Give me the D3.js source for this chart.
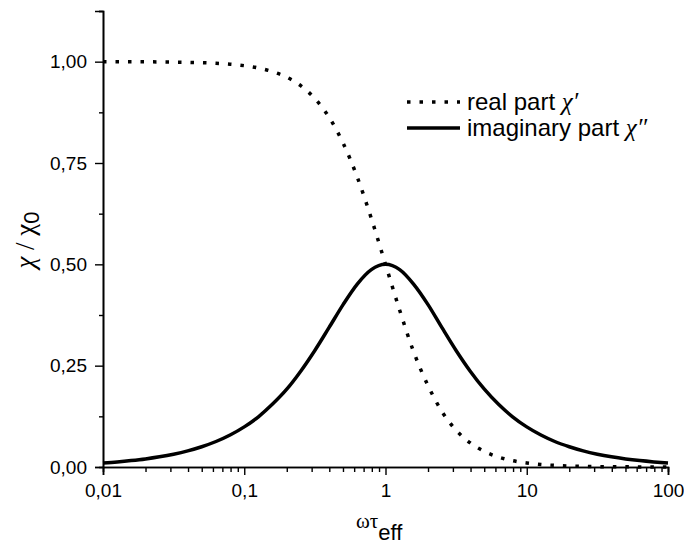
<!DOCTYPE html>
<html>
<head>
<meta charset="utf-8">
<script src="https://cdn.jsdelivr.net/npm/d3@7"></script>
<style>
  body { margin: 0; background: #fff; }
  svg { display: block; }
  text { font-family: "Liberation Sans", Arial, sans-serif; fill: #000; }
</style>
</head>
<body>
<div id="graph"></div>
<script>
// chart size and plot box (pixels)
const WIDTH = 684, HEIGHT = 546;
const plot = {left: 103, right: 668, top: 11, bottom: 467};

// omega*tau_eff sample points (0.1 decade steps)
const wt = [0.01, 0.0126, 0.0158, 0.02, 0.0251, 0.0316, 0.0398, 0.05, 0.0631, 0.0794,
    0.1, 0.126, 0.158, 0.2, 0.251, 0.316, 0.398, 0.501, 0.631, 0.794,
    1, 1.26, 1.58, 2, 2.51, 3.16, 3.98, 5.01, 6.31, 7.94,
    10, 12.6, 15.8, 20, 25.1, 31.6, 39.8, 50.1, 63.1, 79.4, 100];
// real part chi'
const realPart = [0.9999, 0.9998, 0.9997, 0.9996, 0.9994, 0.999, 0.9984, 0.9975, 0.996, 0.9937,
    0.9901, 0.9844, 0.9755, 0.9617, 0.9407, 0.9091, 0.8632, 0.7992, 0.7153, 0.6131,
    0.5, 0.3869, 0.2847, 0.2008, 0.1368, 0.0909, 0.0594, 0.0383, 0.0245, 0.0156,
    0.0099, 0.0063, 0.004, 0.0025, 0.0016, 0.001, 0.0006, 0.0004, 0.00025, 0.00016, 0.0001];
// imaginary part chi''
const imagPart = [0.0100, 0.0126, 0.0158, 0.0199, 0.0251, 0.0316, 0.0398, 0.0500, 0.0629, 0.0789,
    0.0990, 0.1239, 0.1546, 0.1919, 0.2363, 0.2875, 0.3437, 0.4006, 0.4513, 0.4870,
    0.5000, 0.4870, 0.4513, 0.4006, 0.3437, 0.2875, 0.2363, 0.1919, 0.1546, 0.1239,
    0.0990, 0.0789, 0.0629, 0.0500, 0.0398, 0.0316, 0.0251, 0.0199, 0.0158, 0.0126, 0.0100];

// ticks
const xMajor = [0.01, 0.1, 1, 10, 100];
const xMajorLabels = ["0,01", "0,1", "1", "10", "100"];
const yMajor = [0, 0.25, 0.5, 0.75, 1];
const yMajorLabels = ["0,00", "0,25", "0,50", "0,75", "1,00"];
const yMinor = [0.125, 0.375, 0.625, 0.875, 1.125];

let svg = d3.select("#graph")
    .append("svg")
    .attr("width", WIDTH)
    .attr("height", HEIGHT);

let x = d3.scaleLog()
    .domain([0.01, 100])
    .range([plot.left, plot.right]);

let y = d3.scaleLinear()
    .domain([0, 1.125])
    .range([plot.bottom, plot.top]);

// minor ticks on log axis: 2..9 in every decade
let xMinor = [];
xMajor.slice(0, -1).forEach(d => {
    for (let k = 2; k <= 9; k++) xMinor.push(d * k);
});

// x axis
let xAxis = svg.append("g").attr("transform", `translate(0, ${plot.bottom})`);
xAxis.call(d3.axisBottom(x).tickValues(xMinor).tickSize(5).tickFormat(""));
xAxis.append("g").call(d3.axisBottom(x).tickValues(xMajor).tickSize(8).tickPadding(9)
    .tickFormat((d, i) => xMajorLabels[i]));

// y axis
let yAxis = svg.append("g").attr("transform", `translate(${plot.left}, 0)`);
yAxis.call(d3.axisLeft(y).tickValues(yMinor).tickSize(4).tickFormat(""));
yAxis.append("g").call(d3.axisLeft(y).tickValues(yMajor).tickSize(8).tickPadding(8)
    .tickFormat((d, i) => yMajorLabels[i]));

svg.selectAll(".domain").attr("stroke", "#000").attr("stroke-width", 1.6);
svg.selectAll(".tick line").attr("stroke", "#000").attr("stroke-width", 1.4);
svg.selectAll(".tick text")
    .style("font-family", "'Liberation Sans', Arial, sans-serif")
    .style("font-size", "19px")
    .attr("fill", "#000");

// curves
let line = d3.line()
    .x((d, i) => x(wt[i]))
    .y(d => y(d))
    .curve(d3.curveMonotoneX);

svg.append("path")
    .datum(realPart)
    .attr("d", line)
    .attr("fill", "none")
    .attr("stroke", "#000")
    .attr("stroke-width", 3.5)
    .attr("stroke-dasharray", "3.5 9");

svg.append("path")
    .datum(imagPart)
    .attr("d", line)
    .attr("fill", "none")
    .attr("stroke", "#000")
    .attr("stroke-width", 3.5);

// legend
const legendItems = [
    {label: "real part ", sym: "\u03C7\u2032", dash: "3.5 9", y: 102},
    {label: "imaginary part ", sym: "\u03C7\u2033", dash: null, y: 128}
];
let legend = svg.append("g");
legendItems.forEach(d => {
    legend.append("line")
        .attr("x1", 407).attr("x2", 460)
        .attr("y1", d.y).attr("y2", d.y)
        .attr("stroke", "#000")
        .attr("stroke-width", 3.5)
        .attr("stroke-dasharray", d.dash);
    let t = legend.append("text")
        .attr("x", 467)
        .attr("y", d.y + 8)
        .style("font-size", "24px")
        .text(d.label);
    t.append("tspan")
        .style("font-family", "'Liberation Serif', 'Times New Roman', serif")
        .style("font-style", "italic")
        .style("font-size", "25px")
        .text(d.sym);
});

// y axis label: chi / chi_0
let yl = svg.append("text")
    .attr("transform", "translate(34, 240) rotate(-90)")
    .style("text-anchor", "middle")
    .style("font-family", "'Liberation Serif', 'Times New Roman', serif")
    .style("font-size", "27px");
yl.append("tspan").style("font-style", "italic").text("\u03C7");
yl.append("tspan").text(" / \u03C7");
yl.append("tspan")
    .style("font-family", "'Liberation Sans', Arial, sans-serif")
    .style("font-size", "22px")
    .attr("dy", 5)
    .text("0");

// x axis label: omega tau_eff
let xl = svg.append("text")
    .attr("x", 356)
    .attr("y", 528)
    .style("font-family", "'Liberation Serif', 'Times New Roman', serif")
    .style("font-size", "21px");
xl.append("tspan").text("\u03C9\u03C4");
xl.append("tspan")
    .style("font-family", "'Liberation Sans', Arial, sans-serif")
    .style("font-size", "22px")
    .attr("dy", 12)
    .text("eff");
</script>
</body>
</html>
